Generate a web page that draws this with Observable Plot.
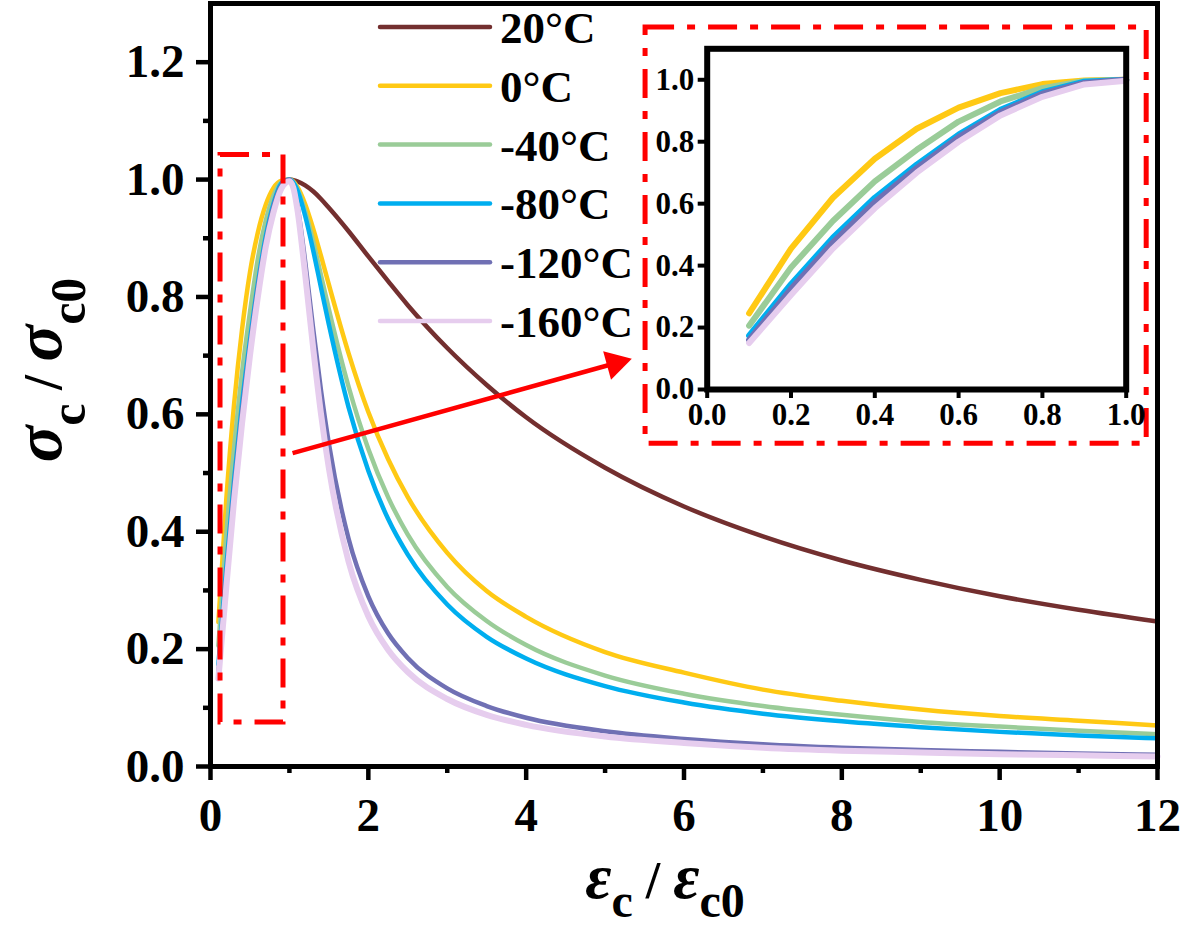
<!DOCTYPE html>
<html><head><meta charset="utf-8">
<script src="https://cdn.jsdelivr.net/npm/d3@7"></script>
<script src="https://cdn.jsdelivr.net/npm/@observablehq/plot@0.6"></script>
<style>
html,body{margin:0;padding:0;background:#fff;}
#wrap{position:relative;width:1180px;height:933px;overflow:hidden;background:#fff;}
#wrap svg{position:absolute;}
</style></head><body><div id="wrap"></div>
<script>
// ---------- data ----------
const seriesNames = ["20°C","0°C","-40°C","-80°C","-120°C","-160°C"];
const seriesColors = ["#732F2F","#FFC914","#9ACC98","#00AEEF","#7070B4","#E6CDEE"];
const mainWidths = [4.5,4.5,4.5,4.5,4.5,6];

const ascX = [0.1,0.2,0.3,0.4,0.5,0.6,0.7,0.8,0.9,1.0];
const asc20 = [];
const asc0 = [0.246,0.455,0.619,0.745,0.842,0.910,0.957,0.986,0.998,1.0];
const ascM40 = [0.206,0.394,0.544,0.672,0.774,0.865,0.930,0.973,0.996,1.0];
const ascM80 = [0.174,0.340,0.490,0.619,0.726,0.823,0.903,0.960,0.994,1.0];
const ascM120 = [0.160,0.325,0.475,0.605,0.715,0.815,0.895,0.955,0.990,1.0];
const ascM160 = [0.150,0.305,0.455,0.585,0.700,0.800,0.885,0.945,0.985,0.997];

const descX = [1.0,1.05,1.1,1.2,1.3,1.4,1.5,1.75,2,2.25,2.5,3,3.5,4,5,6,7,8,9,10,11,12];
const desc20 = [1.0,0.999,0.997,0.990,0.980,0.967,0.952,0.912,0.869,0.827,0.786,0.713,0.650,0.595,0.509,0.443,0.392,0.351,0.318,0.290,0.267,0.247];
const desc0 = [null,0.997,0.988,0.958,0.917,0.870,0.821,0.704,0.604,0.524,0.459,0.364,0.299,0.255,0.195,0.160,0.131,0.112,0.097,0.086,0.078,0.070];
const descM40 = [null,0.996,0.985,0.946,0.895,0.837,0.779,0.647,0.541,0.459,0.395,0.306,0.248,0.207,0.155,0.124,0.103,0.088,0.076,0.068,0.061,0.055];
const descM80 = [null,0.995,0.982,0.938,0.880,0.816,0.753,0.612,0.504,0.422,0.361,0.276,0.221,0.184,0.137,0.109,0.090,0.077,0.067,0.059,0.053,0.048];
const descM120 = [null,0.988,0.957,0.860,0.747,0.641,0.550,0.388,0.290,0.227,0.185,0.133,0.103,0.083,0.060,0.047,0.038,0.032,0.028,0.025,0.022,0.020];
const descM160 = [null,0.986,0.950,0.838,0.714,0.601,0.508,0.349,0.256,0.199,0.161,0.115,0.088,0.071,0.051,0.040,0.032,0.027,0.024,0.021,0.019,0.017];

const xTicks = [0,2,4,6,8,10,12];
const xMinorTicks = [1,3,5,7,9,11];
const yTicks = [0,0.2,0.4,0.6,0.8,1.0,1.2];
const yMinorTicks = [0.1,0.3,0.5,0.7,0.9,1.1];
const insetTicks = [0,0.2,0.4,0.6,0.8,1.0];

// annotation geometry (data coordinates of the main plot)
const zoomBox = [{x1:0.127, x2:0.925, y1:0.075, y2:1.042}];
const insetBox = [{x1:5.513, x2:11.863, y1:0.5497, y2:1.259}];
const arrowLine = [{x1:1.04, y1:0.534, x2:5.13, y2:0.687}];
const arrowHead = [{x:5.13, y:0.687}];

// ---------- build rows ----------
const ascAll = [asc20, asc0, ascM40, ascM80, ascM120, ascM160];
const descAll = [desc20, desc0, descM40, descM80, descM120, descM160];
const rows = seriesNames.map((name, i) => {
  const r = [];
  ascAll[i].forEach((v, j) => r.push({x: ascX[j], y: v}));
  descAll[i].forEach((v, j) => { if (v != null) r.push({x: descX[j], y: v}); });
  return r;
});
const insetRows = seriesNames.map((name, i) => ascAll[i].map((v, j) => ({x: ascX[j], y: v})));

const fmt1 = d3.format(".1f");
const serif = "'Liberation Serif','Times New Roman',serif";

const mainLines = seriesNames.map((n, i) =>
  Plot.line(rows[i], {x: "x", y: "y", stroke: seriesColors[i], strokeWidth: mainWidths[i], curve: "monotone-x"}));

const dash = "29,13,8,13";
const MF = 47;
const main = Plot.plot({
  width: 1180, height: 933,
  marginLeft: 210, marginRight: 23, marginTop: 3, marginBottom: 167,
  x: {domain: [0, 12]},
  y: {domain: [0, 1.3]},
  style: {fontFamily: serif, fontWeight: "bold", fontSize: MF + "px", background: "white", color: "black", overflow: "visible"},
  marks: [
    ...mainLines,
    Plot.rect(zoomBox, {x1: "x1", x2: "x2", y1: "y1", y2: "y2", fill: "none", stroke: "#FF0000", strokeWidth: 5, strokeDasharray: dash}),
    Plot.rect(insetBox, {x1: "x1", x2: "x2", y1: "y1", y2: "y2", fill: "none", stroke: "#FF0000", strokeWidth: 5, strokeDasharray: dash}),
    Plot.link(arrowLine, {x1: "x1", y1: "y1", x2: "x2", y2: "y2", stroke: "#FF0000", strokeWidth: 4.5}),
    Plot.dot(arrowHead, {x: "x", y: "y", symbol: "triangle", r: 11, fill: "#FF0000", stroke: "none", rotate: 74.6}),
    Plot.axisX(xMinorTicks, {tickSize: 7, tickFormat: () => "", strokeWidth: 4.5, label: null}),
    Plot.axisX(xTicks, {tickSize: 14, tickPadding: 17, tickFormat: d => String(d), strokeWidth: 4.5, fontSize: MF, fontWeight: "bold", label: null}),
    Plot.axisY(yMinorTicks, {tickSize: 7, tickFormat: () => "", strokeWidth: 4.5, label: null}),
    Plot.axisY(yTicks, {tickSize: 14, tickPadding: 12, tickFormat: fmt1, strokeWidth: 4.5, fontSize: MF, fontWeight: "bold", label: null}),
    Plot.frame({stroke: "black", strokeWidth: 5})
  ]
});
main.style.left = "0px"; main.style.top = "0px";
document.getElementById("wrap").appendChild(main);

// legend & axis titles
const svg = d3.select(main);
const leg = svg.append("g").attr("text-anchor", "start");
seriesNames.forEach((n, i) => {
  const y = 27 + i * 58.8;
  leg.append("line").attr("x1", 380).attr("x2", 490).attr("y1", y).attr("y2", y)
    .attr("stroke", seriesColors[i]).attr("stroke-width", 4.5).attr("stroke-linecap", "round");
  leg.append("text").attr("x", 500).attr("y", y + 16).attr("text-anchor", "start")
    .style("font-size", "45px").style("font-weight", "bold").style("font-family", serif)
    .attr("fill", "black").text(n);
});

function title(g, sym, sub1, sub2, bigSize, subSize, slashSize, shift) {
  const t = g.append("text").attr("text-anchor", "middle").style("font-family", serif).style("font-weight", "bold").attr("fill", "black");
  t.append("tspan").style("font-style", "italic").style("font-size", bigSize + "px").text(sym);
  t.append("tspan").style("font-size", subSize + "px").attr("dy", shift).text(sub1);
  t.append("tspan").style("font-size", slashSize + "px").attr("dy", -shift).text(" / ");
  t.append("tspan").style("font-style", "italic").style("font-size", bigSize + "px").text(sym);
  t.append("tspan").style("font-size", subSize + "px").attr("dy", shift).text(sub2);
  return t;
}
const xt = svg.append("g").attr("transform", "translate(665,898)");
title(xt, "ε", "c", "c0", 64, 48, 52, 19);
const yt = svg.append("g").attr("transform", "translate(61,370) rotate(-90)");
title(yt, "σ", "c", "c0", 68, 50, 54, 24);

// ---------- inset ----------
const IF = 31;
const insetLines = seriesNames.map((n, i) =>
  Plot.line(insetRows[i], {x: "x", y: "y", stroke: seriesColors[i], strokeWidth: 6, curve: "linear"}));
const inset = Plot.plot({
  width: 520, height: 430,
  marginLeft: 66.7, marginTop: 28.3, marginRight: 34.3, marginBottom: 61,
  x: {domain: [0, 1]},
  y: {domain: [0, 1.1]},
  style: {fontFamily: serif, fontWeight: "bold", fontSize: IF + "px", background: "none", color: "black", overflow: "visible"},
  marks: [
    ...insetLines,
    Plot.axisX(insetTicks, {tickSize: 9, tickPadding: 4, tickFormat: fmt1, strokeWidth: 4, fontSize: IF, fontWeight: "bold", label: null}),
    Plot.axisY(insetTicks, {tickSize: 9, tickPadding: 4, tickFormat: fmt1, strokeWidth: 4, fontSize: IF, fontWeight: "bold", label: null}),
    Plot.frame({stroke: "black", strokeWidth: 6})
  ]
});
inset.style.left = "640px"; inset.style.top = "20px";
document.getElementById("wrap").appendChild(inset);
</script></body></html>
